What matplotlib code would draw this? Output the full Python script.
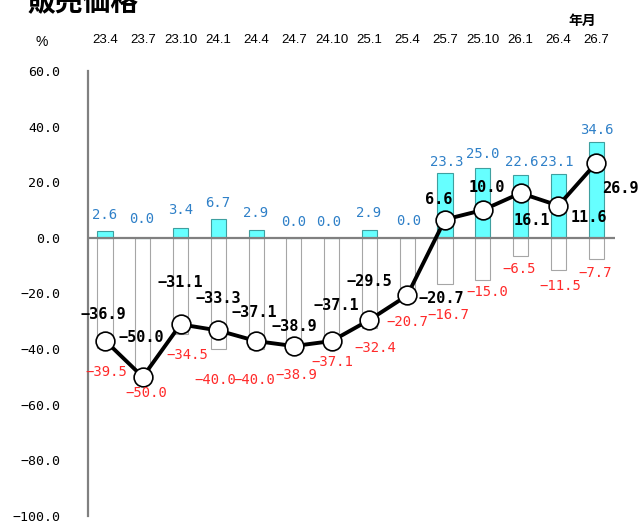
import matplotlib
matplotlib.use("Agg")
import matplotlib.pyplot as plt
import numpy as np

# ---- data ----
categories = ["23.4", "23.7", "23.10", "24.1", "24.4", "24.7", "24.10",
              "25.1", "25.4", "25.7", "25.10", "26.1", "26.4", "26.7"]
up_values = [2.6, 0.0, 3.4, 6.7, 2.9, 0.0, 0.0, 2.9, 0.0, 23.3, 25.0, 22.6, 23.1, 34.6]
down_values = [-39.5, -50.0, -34.5, -40.0, -40.0, -38.9, -37.1, -32.4, -20.7,
               -16.7, -15.0, -6.5, -11.5, -7.7]
di_values = [-36.9, -50.0, -31.1, -33.3, -37.1, -38.9, -37.1, -29.5, -20.7,
             6.6, 10.0, 16.1, 11.6, 26.9]
y_ticks = [60, 40, 20, 0, -20, -40, -60, -80, -100]

# ---- label offsets (pixels, image-style: +dy = down) ----
line_off = [(-2, -26), (-1, -39), (0, -42), (0, -32), (-2, -29), (0, -20), (5, -36),
            (0, -38), (34, 3), (-6, -20), (4, -23), (11, 27), (31, 12), (24, 25)]
red_off = [(1, 24), (4, 16), (7, 21), (-3, 31), (-2, 31), (2, 29), (1, 21),
           (6, 20), (0, 27), (3, 31), (5, 12), (-1, 13), (2, 16), (-1, 14)]
blue_off = [(0, -16), (-1, -19), (0, -18), (-1, -16), (-1, -17), (0, -16), (-3, -16),
            (-1, -17), (1, -17), (2, -11), (0, -14), (1, -13), (-2, -12), (1, -12)]

W, H = 641, 524
fig = plt.figure(figsize=(W / 100, H / 100), dpi=100)
ax = fig.add_axes([88 / W, 1 - 516 / H, (615 - 88) / W, (516 - 71) / H])

x = np.arange(len(categories))
bw = 0.4

ax.bar(x, down_values, width=bw, color="white", edgecolor="#a6a6a6", linewidth=0.8, zorder=2)
ax.bar(x, up_values, width=bw, color="#66ffff", edgecolor="#3f9f9f", linewidth=0.8, zorder=2)
ax.axhline(0, color="#808080", linewidth=1.6, zorder=3)
ax.plot(x, di_values, color="black", linewidth=2.8, marker="o", markersize=13.5,
        markerfacecolor="white", markeredgecolor="black", markeredgewidth=1.2, zorder=5)

ax.set_xlim(-0.45, 13.5)
ax.set_ylim(-100, 60)

mono = ["DejaVu Sans Mono"]


def fmt(v):
    s = f"{v:.1f}"
    return s.replace("-", "\u2212")


for i in range(len(categories)):
    ax.annotate(fmt(di_values[i]), (x[i], di_values[i]), xytext=(line_off[i][0], -line_off[i][1]),
                textcoords="offset pixels", ha="center", va="center", fontsize=11,
                fontweight="bold", family=mono, color="black", zorder=6)
    ax.annotate(fmt(down_values[i]), (x[i], down_values[i]), xytext=(red_off[i][0], -red_off[i][1]),
                textcoords="offset pixels", ha="center", va="center", fontsize=10,
                family=mono, color="#ff2a2a", zorder=6)
    ax.annotate(fmt(up_values[i]), (x[i], up_values[i]), xytext=(blue_off[i][0], -blue_off[i][1]),
                textcoords="offset pixels", ha="center", va="center", fontsize=10,
                family=mono, color="#2f80c8", zorder=6)

# axes styling
for s in ["top", "right", "bottom"]:
    ax.spines[s].set_visible(False)
ax.spines["left"].set_color("#808080")
ax.spines["left"].set_linewidth(1.6)

ax.set_yticks(y_ticks)
ax.set_yticklabels([fmt(v) for v in y_ticks], family=mono, fontsize=9.5)
ax.tick_params(axis="y", length=0, pad=20)

ax.xaxis.tick_top()
ax.set_xticks(x)
ax.set_xticklabels(categories, family=["Liberation Sans"], fontsize=9.5)
ax.tick_params(axis="x", length=0, pad=18)

fig.text(42 / W, 1 - 42 / H, "%", ha="center", va="center", fontsize=10,
         family=["Liberation Sans"])
fig.text(582 / W, 1 - 21 / H, "年月", ha="center", va="center", fontsize=10,
         family=["Noto Sans CJK JP"], fontweight="bold")
fig.text(28 / W, 1 - 10 / H, "販売価格", ha="left", va="baseline", fontsize=20,
         family=["Noto Sans CJK JP"], fontweight="bold")

fig.savefig("out.png", dpi=100)
